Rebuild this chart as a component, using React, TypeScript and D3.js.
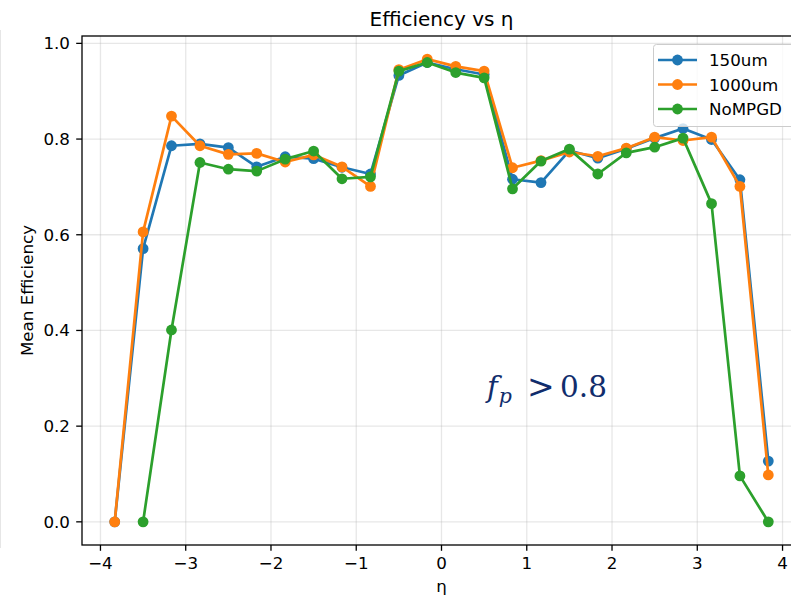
import { useEffect, useRef } from 'react';
import * as d3 from 'd3';

// eta bin centres
const etaBins = [
  -3.833, -3.5, -3.167, -2.833, -2.5, -2.167, -1.833, -1.5, -1.167, -0.833, -0.5, -0.167,
  0.167, 0.5, 0.833, 1.167, 1.5, 1.833, 2.167, 2.5, 2.833, 3.167, 3.5, 3.833,
];

const eff150um = [
  0, 0.571, 0.786, 0.790, 0.782, 0.742, 0.763, 0.759, 0.741, 0.727, 0.933, 0.960,
  0.946, 0.935, 0.716, 0.709, 0.776, 0.760, 0.780, 0.802, 0.822, 0.799, 0.715, 0.127,
];
const eff1000um = [
  0, 0.606, 0.848, 0.786, 0.768, 0.770, 0.752, 0.767, 0.742, 0.701, 0.945, 0.967,
  0.952, 0.942, 0.740, 0.755, 0.773, 0.764, 0.781, 0.804, 0.797, 0.804, 0.701, 0.098,
];
const effNoMPGD = [
  null, 0, 0.401, 0.751, 0.737, 0.733, 0.758, 0.775, 0.717, 0.721, 0.942, 0.960,
  0.939, 0.928, 0.696, 0.754, 0.779, 0.727, 0.771, 0.783, 0.802, 0.665, 0.096, 0,
];

const seriesNames = ['150um', '1000um', 'NoMPGD'];
const seriesColors = ['#1f77b4', '#ff7f0e', '#2ca02c'];
const seriesValues = [eff150um, eff1000um, effNoMPGD];

const xTicks = [-4, -3, -2, -1, 0, 1, 2, 3, 4];
const yTicks = [0, 0.2, 0.4, 0.6, 0.8, 1.0];

const W = 791, H = 600;
const FONT = 'DejaVu Sans, sans-serif';
const FS = 16.7;

export default function App() {
  const svgRef = useRef<SVGSVGElement>(null);

  useEffect(() => {
    const svg = d3.select(svgRef.current);
    svg.selectAll('*').remove();

    const left = 82, right = 801, top = 36, bottom = 545;
    const tickLen = 5.8;
    const x = d3.scaleLinear().domain([-4.2165, 4.2165]).range([left, right]);
    const y = d3.scaleLinear().domain([-0.0484, 1.0154]).range([bottom, top]);

    svg.append('rect').attr('width', W).attr('height', H).attr('fill', '#fff');

    // faint edge line at far left
    svg.append('line').attr('x1', 0.5).attr('x2', 0.5).attr('y1', 30).attr('y2', 548)
      .attr('stroke', '#e6e6e6').attr('stroke-width', 1);

    const plot = svg.append('g');

    // grid
    plot.selectAll('.gx').data(xTicks).join('line')
      .attr('x1', d => x(d)).attr('x2', d => x(d)).attr('y1', top).attr('y2', bottom)
      .attr('stroke', '#b0b0b0').attr('stroke-opacity', 0.3).attr('stroke-width', 1.3);
    plot.selectAll('.gy').data(yTicks).join('line')
      .attr('x1', left).attr('x2', right).attr('y1', d => y(d)).attr('y2', d => y(d))
      .attr('stroke', '#b0b0b0').attr('stroke-opacity', 0.3).attr('stroke-width', 1.3);

    // series
    const line = d3.line<[number, number | null]>()
      .defined(d => d[1] !== null)
      .x(d => x(d[0])).y(d => y(d[1] as number));

    seriesValues.forEach((vals, i) => {
      const pts = etaBins.map((e, j) => [e, vals[j]] as [number, number | null]);
      const g = plot.append('g');
      g.append('path').datum(pts).attr('d', line)
        .attr('fill', 'none').attr('stroke', seriesColors[i]).attr('stroke-width', 2.7)
        .attr('stroke-linejoin', 'round').attr('stroke-linecap', 'square');
      g.selectAll('circle').data(pts.filter(p => p[1] !== null)).join('circle')
        .attr('cx', d => x(d[0])).attr('cy', d => y(d[1] as number)).attr('r', 5.4)
        .attr('fill', seriesColors[i]);
    });

    // annotation f_p > 0.8
    const annColor = '#112d6c';
    const ann = svg.append('g').attr('font-family', 'DejaVu Serif, serif').attr('fill', annColor);
    const fp = ann.append('text').attr('x', 487).attr('y', 397).attr('font-size', 29);
    fp.append('tspan').attr('font-style', 'italic').text('f');
    fp.append('tspan').attr('font-style', 'italic').attr('font-size', 20.5).attr('dy', 5.5).attr('dx', 1).text('p');
    ann.append('text').attr('x', 527).attr('y', 398).attr('font-size', 33).text('>');
    ann.append('text').attr('x', 560).attr('y', 397).attr('font-size', 29.5).text('0.8');

    // spines
    svg.append('rect').attr('x', left).attr('y', top).attr('width', right - left).attr('height', bottom - top)
      .attr('fill', 'none').attr('stroke', '#000').attr('stroke-width', 1.3);

    // x ticks
    const xt = svg.append('g');
    xTicks.forEach(t => {
      xt.append('line').attr('x1', x(t)).attr('x2', x(t)).attr('y1', bottom).attr('y2', bottom + tickLen)
        .attr('stroke', '#000').attr('stroke-width', 1.3);
      xt.append('text').attr('x', x(t)).attr('y', 569).attr('text-anchor', 'middle')
        .attr('font-family', FONT).attr('font-size', FS).text(String(t).replace('-', '\u2212'));
    });
    // y ticks
    const yt = svg.append('g');
    yTicks.forEach(t => {
      yt.append('line').attr('x1', left - tickLen).attr('x2', left).attr('y1', y(t)).attr('y2', y(t))
        .attr('stroke', '#000').attr('stroke-width', 1.3);
      yt.append('text').attr('x', left - 12).attr('y', y(t) + 6).attr('text-anchor', 'end')
        .attr('font-family', FONT).attr('font-size', FS).text(d3.format('.1f')(t));
    });

    // labels
    svg.append('text').attr('x', (left + right) / 2).attr('y', 26).attr('text-anchor', 'middle')
      .attr('font-family', FONT).attr('font-size', 20).text('Efficiency vs η');
    svg.append('text').attr('x', (left + right) / 2).attr('y', 592).attr('text-anchor', 'middle')
      .attr('font-family', FONT).attr('font-size', FS).text('η');
    svg.append('text').attr('transform', `translate(33,${(top + bottom) / 2}) rotate(-90)`)
      .attr('text-anchor', 'middle').attr('font-family', FONT).attr('font-size', FS)
      .text('Mean Efficiency');

    // legend
    const lg = svg.append('g');
    lg.append('rect').attr('x', 653.5).attr('y', 44.5).attr('width', 141).attr('height', 82).attr('rx', 3)
      .attr('fill', '#fff').attr('fill-opacity', 0.8).attr('stroke', '#cccccc').attr('stroke-width', 1);
    seriesNames.forEach((name, i) => {
      const cy = 60 + i * 24.5;
      lg.append('line').attr('x1', 658).attr('x2', 697).attr('y1', cy).attr('y2', cy)
        .attr('stroke', seriesColors[i]).attr('stroke-width', 2.7);
      lg.append('circle').attr('cx', 677.5).attr('cy', cy).attr('r', 5.4).attr('fill', seriesColors[i]);
      lg.append('text').attr('x', 709).attr('y', cy + 6).attr('font-family', FONT).attr('font-size', FS)
        .text(name);
    });
  }, []);

  return (
    <div style={{ position: 'fixed', left: 0, top: 0, width: W, height: H, background: '#fff' }}>
      <svg ref={svgRef} width={W} height={H} />
    </div>
  );
}
